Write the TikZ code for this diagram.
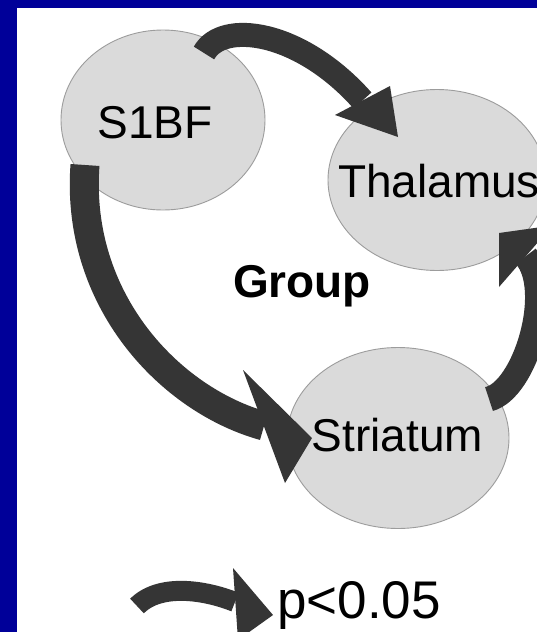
\documentclass[tikz,border=0pt]{standalone}
\usepackage{fontspec}
\setmainfont{Liberation Sans}
\usetikzlibrary{shapes.geometric}
\definecolor{frameblue}{HTML}{000099}
\definecolor{regionfill}{HTML}{DADADA}
\definecolor{regionline}{HTML}{9C9C9C}
\definecolor{arrowc}{HTML}{353535}
\tikzset{
  region/.style={ellipse, fill=regionfill, draw=regionline, line width=0.9pt, inner sep=0pt},
  lbl/.style={anchor=base, inner sep=0pt, font=\fontsize{46pt}{50pt}\selectfont},
  grp/.style={anchor=base, inner sep=0pt, font=\fontsize{46pt}{50pt}\selectfont\bfseries},
  shaft/.style={draw=arrowc, line cap=butt},
  headfill/.style={fill=arrowc}
}
\begin{document}
\begin{tikzpicture}[x=1pt,y=-1pt]
\useasboundingbox (0,0) rectangle (537,632);
\fill[white] (0,0) rectangle (537,632);
\fill[frameblue] (0,0) rectangle (537,8);
\fill[frameblue] (0,0) rectangle (17,632);

% regions
\node[region, minimum width=204pt, minimum height=180pt] (s1bf) at (163,120) {};
\node[region, minimum width=218pt, minimum height=181pt] (thal) at (437,180) {};
\node[region, minimum width=222pt, minimum height=181pt] (stri) at (398,438) {};

% coordinates of arrows
\coordinate (a1t) at (204,53);
\coordinate (a1b) at (362.5,100.5);
\coordinate (a1l) at (335,115);
\coordinate (a1r) at (390,86);
\coordinate (a1p) at (398,137);

\coordinate (a2t) at (85,165);
\coordinate (a2b) at (264,426);
\coordinate (a2l) at (243,370);
\coordinate (a2r) at (285,483);
\coordinate (a2p) at (312,438);

\coordinate (a3t) at (489,399);
\coordinate (a3b) at (525.75,256.25);
\coordinate (a3l) at (499,287);
\coordinate (a3r) at (552.5,225.5);
\coordinate (a3p) at (499,233);

\coordinate (a4t) at (137,606);
\coordinate (a4b) at (235,602);
\coordinate (a4l) at (233,568);
\coordinate (a4r) at (238,640);
\coordinate (a4p) at (273,615);

% S1BF -> Thalamus
\draw[shaft, line width=24pt] (a1t) .. controls (222,20) and (300,30) .. (a1b);
\fill[headfill] (a1l) -- (a1p) -- (a1r) -- cycle;
% S1BF -> Striatum
\draw[shaft, line width=29pt] (a2t) .. controls (75,300) and (170,400) .. (a2b);
\fill[headfill] (a2l) -- (a2p) -- (a2r) -- cycle;
% Striatum -> Thalamus
\draw[shaft, line width=25pt] (a3t) .. controls (525,390) and (555,290) .. (a3b);
\fill[headfill] (a3l) -- (a3p) -- (a3r) -- cycle;
% legend arrow
\draw[shaft, line width=20pt] (a4t) .. controls (160,583) and (205,590) .. (a4b);
\fill[headfill] (a4l) -- (a4p) -- (a4r) -- cycle;

% labels
\node[lbl] (s1bft) at (155,138) {S1BF};
\node[lbl] (thalt) at (439,197) {Thalamus};
\node[lbl] (strit) at (397.5,451) {Striatum};
\node[grp] (group) at (302,297) {Group};
\node[anchor=base west, inner sep=0pt, font=\fontsize{53pt}{56pt}\selectfont] (legend) at (277,618) {p<0.05};
\end{tikzpicture}
\end{document}
